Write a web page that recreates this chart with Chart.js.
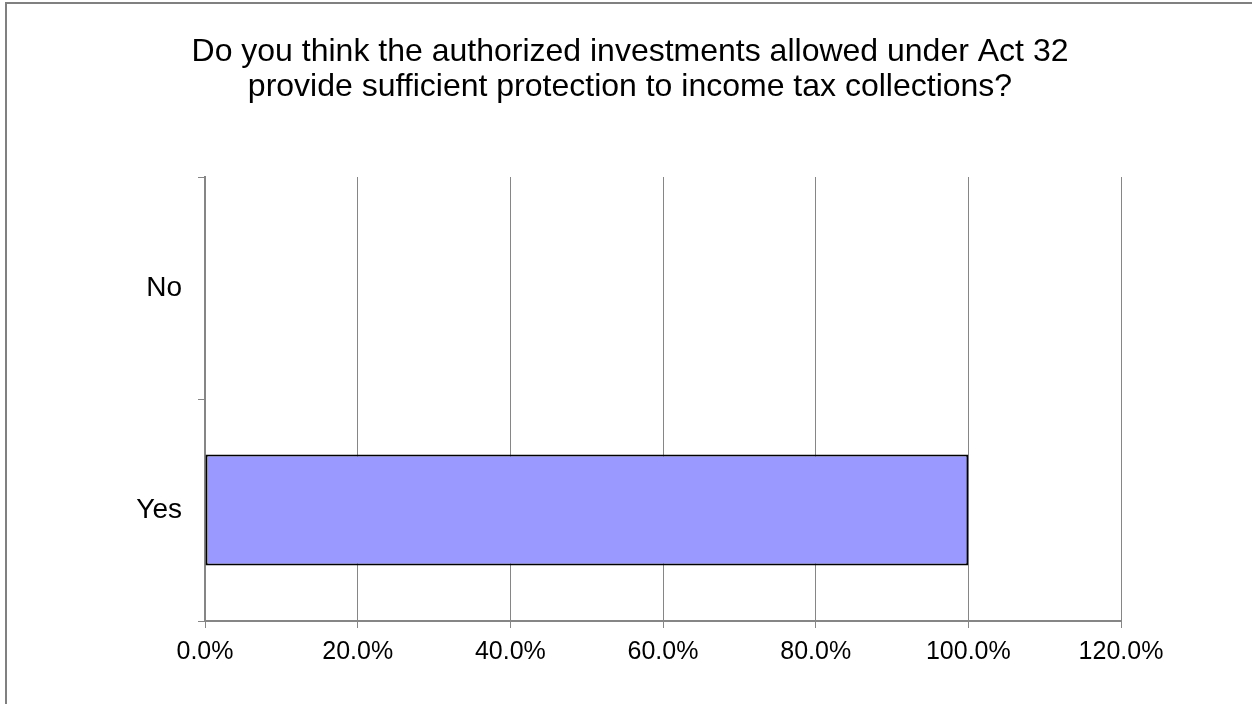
<!DOCTYPE html>
<html>
<head>
<meta charset="utf-8">
<script src="https://cdn.jsdelivr.net/npm/chart.js@4/dist/chart.umd.min.js"></script>
<style>
  html, body { margin: 0; padding: 0; background: #fff; overflow: hidden; }
  #wrap { position: relative; width: 1252px; height: 704px; }
  #frame { position: absolute; left: 5px; top: 2px; width: 1400px; height: 800px;
           border-left: 2px solid #808080; border-top: 2px solid #808080; box-sizing: border-box; }
  canvas { position: absolute; left: 0; top: 0; }
</style>
</head>
<body>
<div id="wrap">
  <div id="frame"></div>
  <canvas id="c" width="1252" height="704"></canvas>
</div>
<script>
const titleLines = ["Do you think the authorized investments allowed under Act 32",
                    "provide sufficient protection to income tax collections?"];
const categories = ["Yes", "No"];
const values = [100, 0];
const xMin = 0, xMax = 120, xStep = 20;

const FONT = "'Liberation Sans', Arial, sans-serif";

new Chart(document.getElementById('c'), {
  type: 'bar',
  data: {
    labels: categories,
    datasets: [{
      data: values,
      backgroundColor: '#9999FF',
      borderColor: '#000000',
      borderWidth: 2,
      borderSkipped: false,
      categoryPercentage: 1.0,
      barPercentage: 0.5,
      yAxisID: 'y'
    }]
  },
  options: {
    indexAxis: 'y',
    responsive: false,
    animation: false,
    devicePixelRatio: 1,
    layout: { padding: { left: 8, right: 0, top: 0, bottom: 0 } },
    plugins: {
      legend: { display: false },
      tooltip: { enabled: false },
      title: {
        display: true,
        text: titleLines,
        color: '#000',
        font: { family: FONT, size: 32, weight: 'normal', lineHeight: '35px' },
        padding: { top: 35, bottom: 72 }
      }
    },
    scales: {
      x: {
        min: xMin, max: xMax,
        ticks: {
          stepSize: xStep,
          color: '#000',
          font: { family: FONT, size: 25 },
          padding: 9,
          maxRotation: 0,
          callback: v => v.toFixed(1) + '%'
        },
        grid: { display: true, color: '#868686', lineWidth: 1, tickLength: 7, tickColor: '#868686' },
        border: { display: true, color: '#868686', width: 2 },
        afterFit: s => { s.height = 83; }
      },
      y: {
        reverse: true,
        ticks: { color: '#000', font: { family: FONT, size: 28 }, padding: 16 },
        grid: { display: true, drawOnChartArea: false, offset: true, color: '#868686', tickLength: 7, tickColor: '#868686' },
        border: { display: true, color: '#868686', width: 2 },
        afterFit: s => { s.width = 197; }
      },
      yR: {
        type: 'linear',
        position: 'right',
        display: true,
        ticks: { display: false },
        grid: { display: false, drawTicks: false },
        border: { display: false },
        afterFit: s => { s.width = 131; }
      }
    }
  }
});
</script>
</body>
</html>
